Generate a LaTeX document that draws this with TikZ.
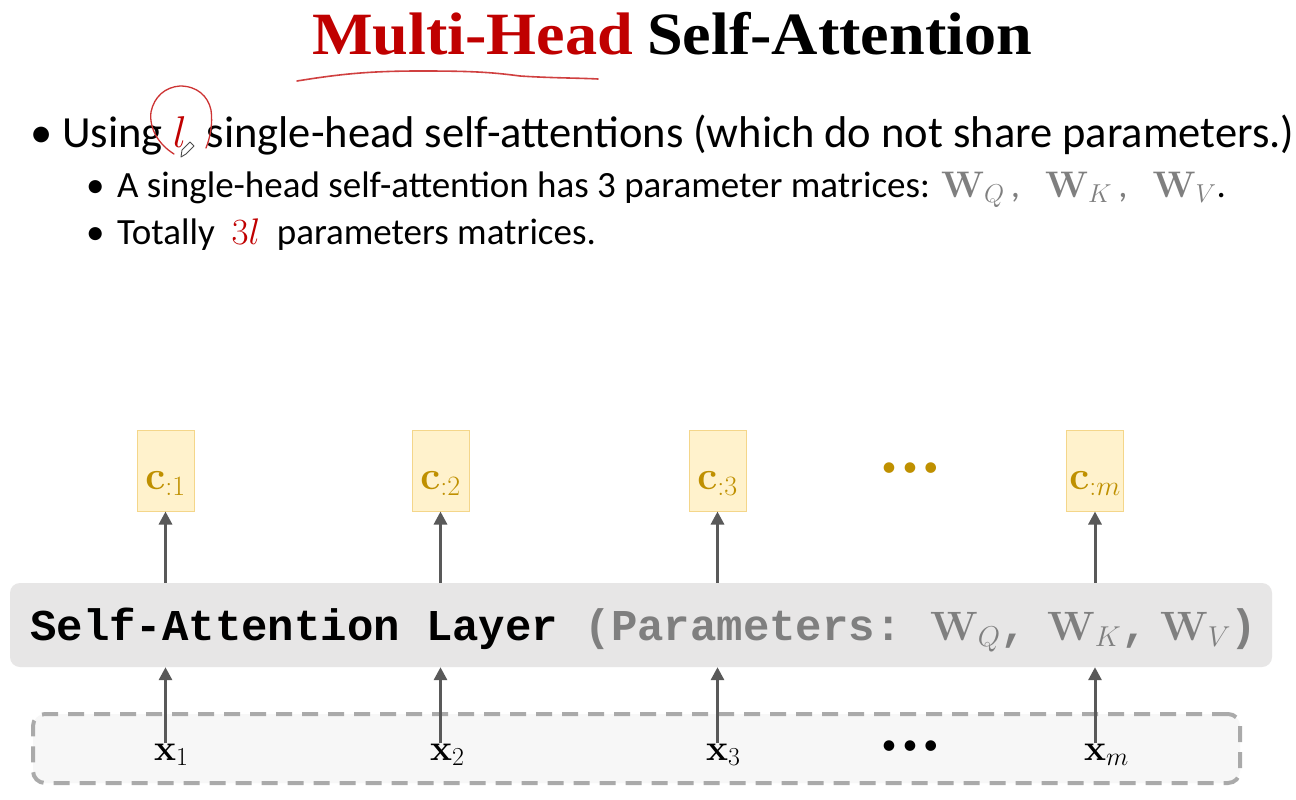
\documentclass[tikz,border=0pt]{standalone}
\usepackage{fix-cm}
\usepackage[no-math]{fontspec}
\setmainfont{Carlito}
\newfontfamily\titlefont{Liberation Serif}
\newfontfamily\monofont{Liberation Mono}
\usetikzlibrary{arrows.meta}
\definecolor{myred}{HTML}{C00000}
\definecolor{cfill}{HTML}{FFF2CC}
\definecolor{cborder}{HTML}{F4D68A}
\definecolor{cgold}{HTML}{BF9000}
\definecolor{layergray}{HTML}{E7E6E6}
\definecolor{arrowgray}{HTML}{595959}
\definecolor{dashgray}{HTML}{AAAAAA}
\definecolor{boxfill}{HTML}{F7F7F7}
\definecolor{txtgray}{HTML}{7F7F7F}
\newcommand{\cdown}[1]{\raisebox{-19pt}[0pt][0pt]{#1}}
\tikzset{
  txtA/.style={anchor=base west, inner sep=0, font=\fontsize{44.5}{52}\selectfont},
  txtB/.style={anchor=base west, inner sep=0, font=\fontsize{37}{44}\selectfont},
  cbox/.style={draw=cborder, fill=cfill, line width=1, minimum width=57, minimum height=81, inner sep=0, text=cgold, font=\fontsize{40}{40}\selectfont},
  xlab/.style={anchor=base west, inner sep=0, font=\fontsize{37}{40}\selectfont},
  dotsnode/.style={inner sep=0, font=\fontsize{30}{30}\selectfont},
  arr/.style={draw=arrowgray, line width=3, -{Triangle[length=13,width=13]}},
  monotxt/.style={anchor=base west, inner sep=0, font=\monofont\bfseries\fontsize{44}{50}\selectfont},
  wsym/.style={anchor=base west, inner sep=0, text=txtgray, font=\fontsize{41}{50}\selectfont},
}
\begin{document}
\begin{tikzpicture}[x=1pt,y=-1pt]
\useasboundingbox (0,0) rectangle (1296,800);
\fill[white] (0,0) rectangle (1296,800);
% title
\node[anchor=base west, inner sep=0] (title) at (312,55)
  {\titlefont\bfseries\fontsize{60}{72}\selectfont\scalebox{1.07}[1]{\textcolor{myred}{Multi-Head}\hspace{-2pt} Self-Attention}};
\draw[myred!75, line width=1.6, line cap=round] (297,81) .. controls (340,74) and (370,71) .. (420,71) .. controls (470,71) and (490,72) .. (520,76) .. controls (550,78) and (580,78) .. (598,79);
% bullets
\node[txtA] (b1) at (30,147) {•};
\node[txtA] (l1) at (62,147) {Using \textcolor{myred}{$l$}\ \ single-head self-attentions (which do not share parameters.)};
\draw[myred!80, line width=1.3, line cap=round] (174,154) .. controls (158,144) and (149,128) .. (151,112) .. controls (154,97) and (165,87) .. (180,86) .. controls (197,86) and (208,96) .. (211,110) .. controls (213,124) and (210,138) .. (206,148);
\draw[black!70, line width=0.9, fill=white, line join=round] (181,157) -- (182,150) -- (190,142) -- (194,146) -- (186,154) -- cycle;
\node[txtB] (b2) at (86,197) {•};
\node[txtB] (l2) at (117,197) {A single-head self-attention has 3 parameter matrices: \textcolor{txtgray}{$\mathbf{W}_Q$\,,\ \ \ $\mathbf{W}_K$\,,\ \ \ $\mathbf{W}_V$}.};
\node[txtB] (b3) at (86,244) {•};
\node[txtB] (l3) at (117,244) {Totally\ \ \textcolor{myred}{$3l$}\ \ parameters matrices.};
% input dashed box
\node[draw=dashgray, fill=boxfill, line width=4, dash pattern=on 16pt off 10pt, rounded corners=12, minimum width=1207, minimum height=69, inner sep=0] (inbox) at (636.5,748.5) {};
% layer
\node[fill=layergray, rounded corners=10, minimum width=1262, minimum height=84, inner sep=0] (layer) at (641,625) {};
\node[monotxt] (lt) at (30,640) {Self-Attention Layer \textcolor{txtgray}{(Parameters:}};
\node[wsym] (wq) at (930,640) {$\mathbf{W}_Q$\monofont\bfseries\fontsize{44}{50}\selectfont,};
\node[wsym] (wk) at (1047,640) {$\mathbf{W}_K$\monofont\bfseries\fontsize{44}{50}\selectfont,};
\node[wsym] (wv) at (1160,640) {$\mathbf{W}_V$\monofont\bfseries\fontsize{44}{50}\selectfont)};
% outputs
\node[cbox] (ca) at (165.5,470.5) {\cdown{$\mathbf{c}_{:1}$}};
\node[cbox] (cb) at (440.5,470.5) {\cdown{$\mathbf{c}_{:2}$}};
\node[cbox] (cc) at (717.5,470.5) {\cdown{$\mathbf{c}_{:3}$}};
\node[cbox] (cz) at (1095,470.5) {\cdown{$\mathbf{c}_{:m}$}};
\node[dotsnode, text=cgold] (ydots) at (910,470) {•\hspace{6pt}•\hspace{6pt}•};
% inputs
\node[xlab] (xa) at (154,760) {$\mathbf{x}_1$};
\node[xlab] (xb) at (430,760) {$\mathbf{x}_2$};
\node[xlab] (xc) at (706,760) {$\mathbf{x}_3$};
\node[xlab] (xz) at (1084,760) {$\mathbf{x}_m$};
\node[dotsnode, text=black] (kdots) at (910,748) {•\hspace{6pt}•\hspace{6pt}•};
% arrows
\foreach \c/\x in {ca/xa,cb/xb,cc/xc,cz/xz}{
  \draw[arr] (\c.south |- layer.north) -- (\c.south);
  \draw[arr] (\c.south |- \x.north) -- (\c.south |- layer.south);
}
\end{tikzpicture}
\end{document}
